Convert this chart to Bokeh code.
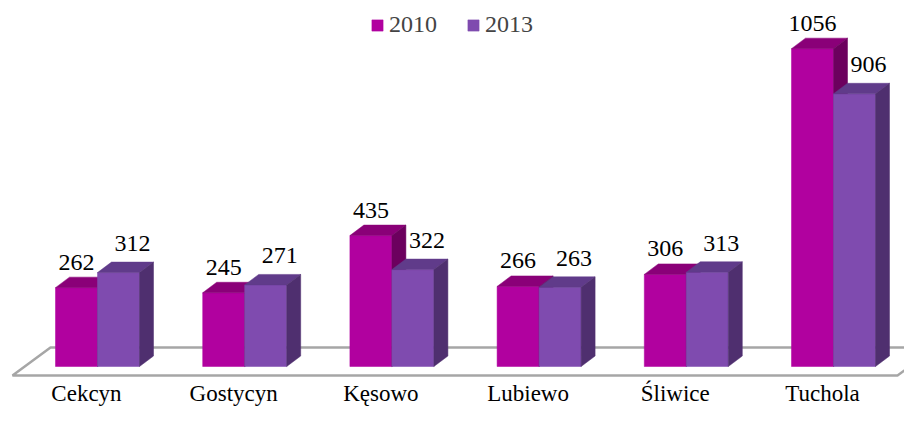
from bokeh.plotting import figure
from bokeh.models import Range1d, Legend, LegendItem, ColumnDataSource, LabelSet
from bokeh.embed import file_html
from bokeh.resources import INLINE

categories = ["Cekcyn", "Gostycyn", "Kęsowo", "Lubiewo", "Śliwice", "Tuchola"]
values_2010 = [262, 245, 435, 266, 306, 1056]
values_2013 = [312, 271, 322, 263, 313, 906]
series_names = ["2010", "2013"]

# colours: front, top, side
colors_2010 = ["#B1019F", "#8A0078", "#6C005E"]
colors_2013 = ["#7F4BAF", "#603B8A", "#4F2F6F"]

FONT = '"Liberation Serif", "DejaVu Serif", serif'

W, H = 904, 406
PX_PER_VAL = 0.301
PX_PER_CAT = 147.2
X0_PX = 97      # screen x of first category centre
Y0_PX = 366     # screen y (from top) of value 0

ypx = 1.0 / PX_PER_VAL
xpx = 1.0 / PX_PER_CAT

BW = 42 * xpx
DX = 14 * xpx
DY = 10.5 * ypx

p = figure(width=W, height=H, output_backend="svg", toolbar_location=None,
           x_range=Range1d(-X0_PX * xpx, (W - X0_PX) * xpx),
           y_range=Range1d(-(H - Y0_PX) * ypx, Y0_PX * ypx),
           min_border=0, outline_line_color=None)
p.axis.visible = False
p.grid.visible = False
p.background_fill_color = "white"

n = len(categories)
# floor
fl_front = -9 * ypx
fl_back = 19 * ypx
fl_l = -85 * xpx
fl_r = (n - 1) * 1.0 + (897 - 97 - (n - 1) * PX_PER_CAT) * xpx
p.patch([fl_l, fl_r, fl_r + 38 * xpx, fl_l + 38 * xpx],
        [fl_front, fl_front, fl_back, fl_back],
        fill_color="white", line_color="#A6A6A6", line_width=2.5)

renderers = []
for s, (vals, cols) in enumerate([(values_2010, colors_2010), (values_2013, colors_2013)]):
    lefts = [i - BW if s == 0 else i for i in range(n)]
    rights = [l + BW for l in lefts]
    src = ColumnDataSource(dict(left=lefts, right=rights, top=vals, bottom=[0] * n))
    r = p.quad(left="left", right="right", top="top", bottom="bottom", source=src,
               fill_color=cols[0], line_color=cols[0], line_width=0.5)
    renderers.append(r)
    top_xs = [[l, rr, rr + DX, l + DX] for l, rr in zip(lefts, rights)]
    top_ys = [[v, v, v + DY, v + DY] for v in vals]
    p.patches(top_xs, top_ys, fill_color=cols[1], line_color=cols[1], line_width=0.5)
    side_xs = [[rr, rr + DX, rr + DX, rr] for rr in rights]
    side_ys = [[0, DY, v + DY, v] for v in vals]
    p.patches(side_xs, side_ys, fill_color=cols[2], line_color=cols[2], line_width=0.5)
    # value labels
    if s == 0:
        lx = [l + BW / 2 for l in lefts]
        ly = [v + DY + 7.5 * ypx for v in vals]
    else:
        lx = [l + BW / 2 + DX for l in lefts]
        ly = [v + DY + 11 * ypx for v in vals]
    lsrc = ColumnDataSource(dict(x=lx, y=ly, t=[str(v) for v in vals]))
    p.add_layout(LabelSet(x="x", y="y", text="t", source=lsrc, text_align="center",
                          text_baseline="alphabetic", text_font=FONT,
                          text_font_size="24px", text_color="black"))

# category labels
csrc = ColumnDataSource(dict(x=[i - 11 * xpx for i in range(n)], y=[-34 * ypx] * n, t=categories))
p.add_layout(LabelSet(x="x", y="y", text="t", source=csrc, text_align="center",
                      text_baseline="alphabetic", text_font=FONT,
                      text_font_size="23px", text_color="black"))

legend = Legend(items=[LegendItem(label=series_names[k], renderers=[renderers[k]]) for k in range(2)],
                orientation="horizontal", location=(370, H - 38),
                glyph_width=14, glyph_height=14, label_standoff=5, spacing=29,
                padding=0, margin=0, border_line_color=None, background_fill_alpha=0,
                label_text_font=FONT, label_text_font_size="24px",
                label_height=14)
p.add_layout(legend, "center")

open("out.html", "w").write(file_html(p, INLINE))
